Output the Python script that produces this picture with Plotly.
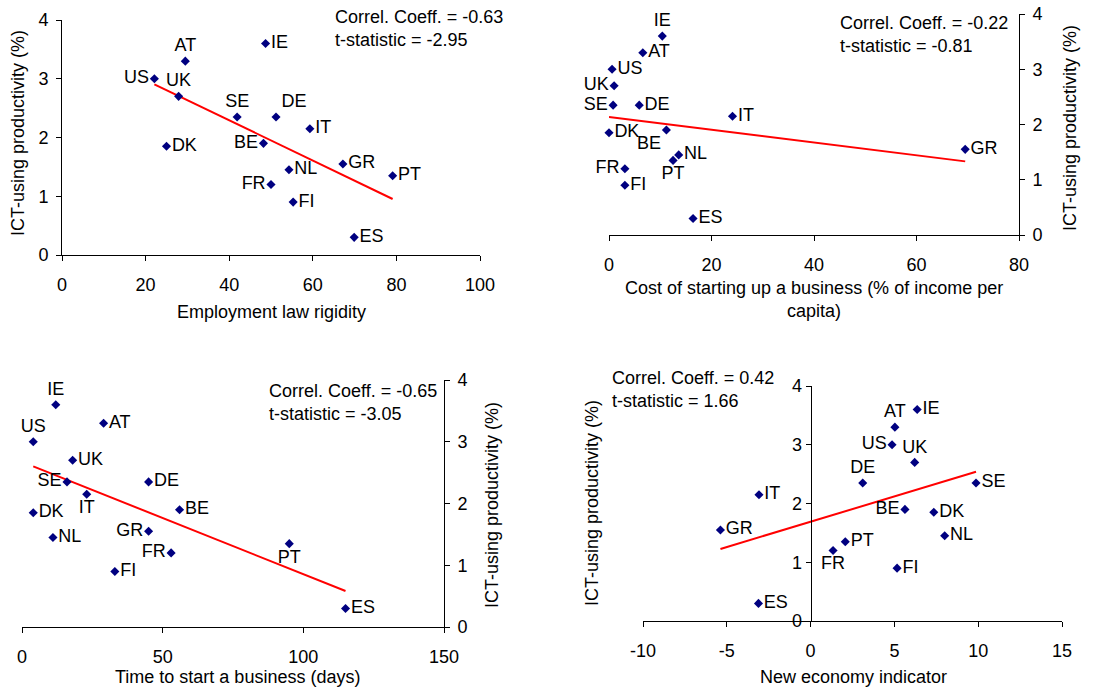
import numpy as np
import plotly.graph_objects as go

countries = ["US", "AT", "IE", "UK", "SE", "DE", "IT", "DK", "BE", "NL", "FR", "GR", "PT", "FI", "ES"]
ict_productivity = [3.0, 3.3, 3.6, 2.7, 2.35, 2.35, 2.15, 1.85, 1.9, 1.45, 1.2, 1.55, 1.35, 0.9, 0.3]
employment_rigidity = [22.1, 29.5, 48.7, 27.9, 41.9, 51.2, 59.3, 25.0, 48.2, 54.3, 50.0, 67.2, 79.1, 55.3, 69.9]
startup_cost = [0.6, 6.6, 10.4, 1.0, 0.8, 5.9, 24.1, 0.0, 11.2, 13.6, 3.1, 69.5, 12.5, 3.1, 16.4]
startup_days = [4, 29, 12, 18, 16, 45, 23, 4, 56, 11, 53, 45, 95, 33, 115]
new_economy = [4.86, 5.03, 6.36, 6.21, 9.87, 3.11, -3.08, 7.35, 5.63, 8.0, 1.34, -5.38, 2.07, 5.16, -3.11]

x_ticks_1 = [0, 20, 40, 60, 80, 100]
x_ticks_2 = [0, 20, 40, 60, 80]
x_ticks_3 = [0, 50, 100, 150]
x_ticks_4 = [-10, -5, 0, 5, 10, 15]
x_ticklabels_4 = ["-10", "-5", "0", "5", "10", "15"]
y_ticks = [0, 1, 2, 3, 4]

stats_text = [
    "Correl. Coeff. = -0.63<br>t-statistic = -2.95",
    "Correl. Coeff. = -0.22<br>t-statistic = -0.81",
    "Correl. Coeff. = -0.65<br>t-statistic = -3.05",
    "Correl. Coeff. = 0.42<br>t-statistic = 1.66",
]
x_titles = [
    "Employment law rigidity",
    "Cost of starting up a business (% of income per<br>capita)",
    "Time to start a business (days)",
    "New economy indicator",
]
y_title = "ICT-using productivity (%)"

# label placement (style)
MR, ML, TC, BC, BL, TR = "middle right", "middle left", "top center", "bottom center", "bottom left", "top right"
pos1 = {"US": ML, "AT": TC, "IE": MR, "UK": TC, "SE": TC, "DE": TR, "IT": MR, "DK": MR, "BE": ML,
        "NL": MR, "FR": ML, "GR": MR, "PT": MR, "FI": MR, "ES": MR}
pos2 = {"US": MR, "AT": MR, "IE": TC, "UK": ML, "SE": ML, "DE": MR, "IT": MR, "DK": MR, "BE": BL,
        "NL": MR, "FR": ML, "GR": MR, "PT": BC, "FI": MR, "ES": MR}
pos3 = {"US": TC, "AT": MR, "IE": TC, "UK": MR, "SE": ML, "DE": MR, "IT": BC, "DK": MR, "BE": MR,
        "NL": MR, "FR": ML, "GR": ML, "PT": BC, "FI": MR, "ES": MR}
pos4 = {"US": ML, "AT": TC, "IE": MR, "UK": TC, "SE": MR, "DE": TC, "IT": MR, "DK": MR, "BE": ML,
        "NL": MR, "FR": BC, "GR": MR, "PT": MR, "FI": MR, "ES": MR}

W, H = 1112, 690
FONT = "Liberation Sans, Arial, sans-serif"
FS = 18


def px(x):
    return x / W


def py(y):
    return 1 - y / H


panels = [
    dict(x=employment_rigidity, pos=pos1, xr=[0, 100], tv=x_ticks_1, tt=[str(v) for v in x_ticks_1],
         dom_x=(62, 480), dom_y=(20, 255), yside="left"),
    dict(x=startup_cost, pos=pos2, xr=[0, 80], tv=x_ticks_2, tt=[str(v) for v in x_ticks_2],
         dom_x=(609, 1019), dom_y=(14, 235), yside="right"),
    dict(x=startup_days, pos=pos3, xr=[0, 150], tv=x_ticks_3, tt=[str(v) for v in x_ticks_3],
         dom_x=(22, 444), dom_y=(380, 627), yside="right"),
    dict(x=new_economy, pos=pos4, xr=[-10, 15], tv=x_ticks_4, tt=x_ticklabels_4,
         dom_x=(643, 1062), dom_y=(386, 621), yside="free"),
]

fig = go.Figure()
layout = dict(
    width=W, height=H, margin=dict(l=0, r=0, t=0, b=0),
    paper_bgcolor="white", plot_bgcolor="white", showlegend=False,
    font=dict(family=FONT, size=FS, color="black"), template="none",
)
annotations = []

for i, p in enumerate(panels):
    n = i + 1
    xa = "x" if n == 1 else f"x{n}"
    ya = "y" if n == 1 else f"y{n}"
    xs = np.array(p["x"], dtype=float)
    ys = np.array(ict_productivity, dtype=float)
    # regression line
    b, a = np.polyfit(xs, ys, 1)
    lx = np.array([xs.min(), xs.max()])
    fig.add_trace(go.Scatter(x=lx, y=a + b * lx, mode="lines", line=dict(color="#ff0000", width=2),
                             xaxis=xa, yaxis=ya, hoverinfo="skip"))
    fig.add_trace(go.Scatter(x=xs, y=ys, mode="markers+text", text=countries,
                             textposition=[p["pos"][c] for c in countries],
                             textfont=dict(family=FONT, size=FS, color="black"),
                             marker=dict(symbol="diamond", size=7, color="#000080"),
                             xaxis=xa, yaxis=ya, cliponaxis=False))
    x0, x1 = p["dom_x"]
    y0, y1 = p["dom_y"]
    xkey = "xaxis" if n == 1 else f"xaxis{n}"
    ykey = "yaxis" if n == 1 else f"yaxis{n}"
    layout[xkey] = dict(domain=[px(x0), px(x1)], range=p["xr"], tickmode="array", tickvals=p["tv"],
                        ticktext=p["tt"], anchor=ya, ticklabelstandoff=8,
                        showline=True, linecolor="black", linewidth=1, ticks="outside", ticklen=5,
                        tickcolor="black", showgrid=False, zeroline=False, automargin=False,
                        tickfont=dict(family=FONT, size=FS))
    yd = dict(domain=[py(y1), py(y0)], range=[0, 4], tickmode="array", tickvals=y_ticks,
              ticktext=[str(v) for v in y_ticks], showline=True, linecolor="black",
              linewidth=1, ticks="outside", ticklen=5, tickcolor="black", showgrid=False,
              zeroline=False, automargin=False, tickfont=dict(family=FONT, size=FS))
    if p["yside"] == "free":
        zero_px = x0 + (0 - p["xr"][0]) / (p["xr"][1] - p["xr"][0]) * (x1 - x0)
        yd.update(anchor="free", position=px(zero_px), side="left")
    else:
        yd.update(anchor=xa, side=p["yside"], ticklabelstandoff=4)
    layout[ykey] = yd

# correlation texts
stat_pos = [(333, 28.5), (838, 34.5), (267, 402), (610, 389)]
for t, (sx, sy) in zip(stats_text, stat_pos):
    annotations.append(dict(text=t, x=px(sx), y=py(sy), xref="paper", yref="paper", xanchor="left",
                            yanchor="middle", align="left", showarrow=False,
                            font=dict(family=FONT, size=FS, color="black")))

# axis titles
xt_pos = [(271, 312), (814, 300), (237, 677), (853, 677)]
for t, (sx, sy) in zip(x_titles, xt_pos):
    annotations.append(dict(text=t, x=px(sx), y=py(sy), xref="paper", yref="paper", xanchor="center",
                            yanchor="middle", align="center", showarrow=False,
                            font=dict(family=FONT, size=FS, color="black")))
yt_pos = [(18, 133), (1070, 128), (492, 505), (592, 503)]
for sx, sy in yt_pos:
    annotations.append(dict(text=y_title, x=px(sx), y=py(sy), xref="paper", yref="paper", xanchor="center",
                            yanchor="middle", textangle=-90, showarrow=False,
                            font=dict(family=FONT, size=FS, color="black")))

layout["annotations"] = annotations
fig.update_layout(**layout)
fig.write_html("out.html", config={"displayModeBar": False},
               post_script="document.body.style.margin='0';document.body.style.overflow='hidden';")
